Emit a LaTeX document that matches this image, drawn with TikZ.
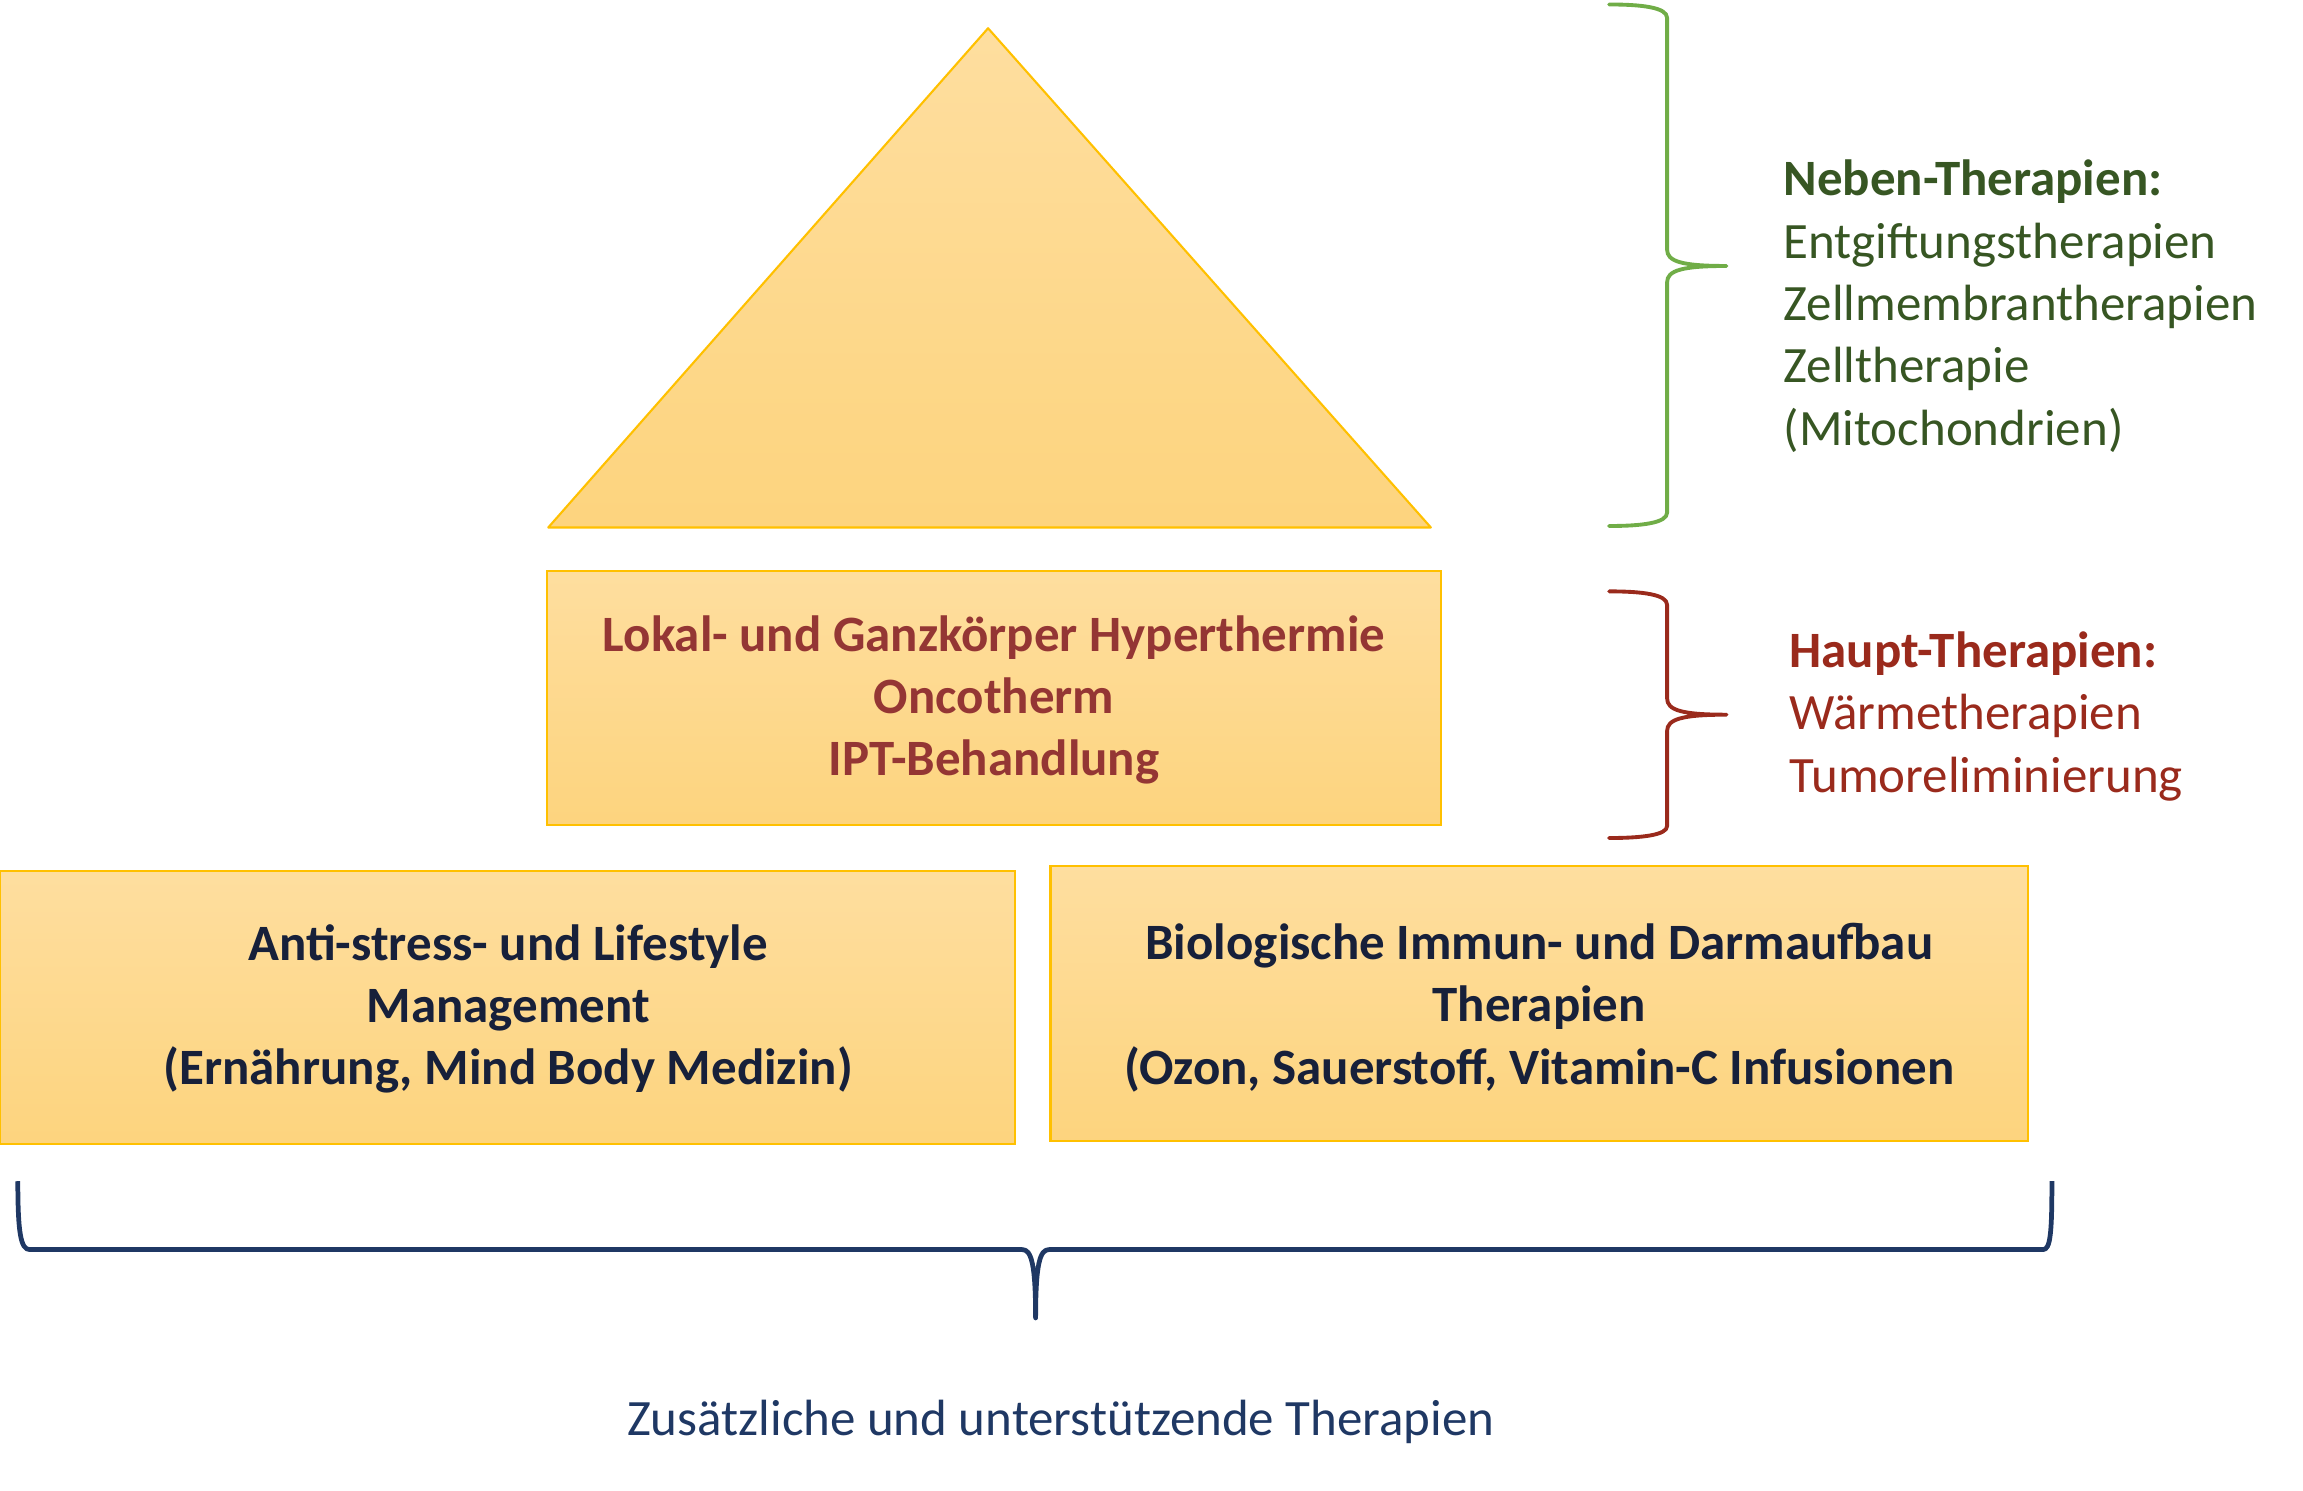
\documentclass[tikz,border=0pt]{standalone}
\usepackage{fontspec}
\setmainfont{Carlito}
\definecolor{boxborder}{HTML}{FFC000}
\definecolor{filltop}{HTML}{FEDE9F}
\definecolor{fillbot}{HTML}{FDD47E}
\definecolor{midred}{HTML}{943634}
\definecolor{darknavy}{HTML}{17203A}
\definecolor{bracegreen}{HTML}{70AD47}
\definecolor{textgreen}{HTML}{375623}
\definecolor{darkred}{HTML}{9A2A1C}
\definecolor{navy}{HTML}{1F3864}
\tikzset{
  boxshape/.style={top color=filltop, bottom color=fillbot, draw=boxborder, line width=0.6pt},
  boxtext/.style={align=center, font=\fontsize{14.5}{17.75}\selectfont\bfseries, inner sep=0pt},
  sidetext/.style={align=left, font=\fontsize{14.5}{17.75}\selectfont, inner sep=0pt, anchor=west},
  bracestyle/.style={line width=1.1pt, line cap=round, line join=round}
}
\begin{document}
\begin{tikzpicture}[x=0.0148581cm, y=-0.0148581cm]
\useasboundingbox (0,0) rectangle (1550,1003);
% triangle
\shade[top color=filltop, bottom color=fillbot] (665,19) -- (963,355) -- (369,355) -- cycle;
\draw[boxborder, line width=0.6pt, line join=round] (665,19) -- (963,355) -- (369,355) -- cycle;
% boxes
\path[boxshape] (368,384) rectangle (970,555);
\path[boxshape] (0,586) rectangle (683,770);
\path[boxshape] (707,583) rectangle (1365,768);
\node[boxtext, text=midred] (haupt) at (669,471) {Lokal- und Ganzkörper Hyperthermie\\Oncotherm\\IPT-Behandlung};
\node[boxtext, text=darknavy] (anti) at (342,679) {Anti-stress- und Lifestyle\\Management\\(Ernährung, Mind Body Medizin)};
\node[boxtext, text=darknavy] (bio) at (1036,678) {Biologische Immun- und Darmaufbau\\Therapien\\(Ozon, Sauerstoff, Vitamin-C Infusionen};
% green brace
\draw[bracestyle, bracegreen] (1083,3) .. controls (1105,3) and (1122,5) .. (1122,12) -- (1122,168) .. controls (1122,176) and (1132,179) .. (1162,179)
  .. controls (1132,179) and (1122,182) .. (1122,190) -- (1122,345) .. controls (1122,352) and (1105,354) .. (1083,354);
\coordinate (gtip) at (1162,179);
% red brace
\draw[bracestyle, darkred] (1083,398) .. controls (1105,398) and (1122,400) .. (1122,407) -- (1122,470) .. controls (1122,478) and (1132,481) .. (1162,481)
  .. controls (1132,481) and (1122,484) .. (1122,492) -- (1122,556) .. controls (1122,562) and (1105,564) .. (1083,564);
\coordinate (rtip) at (1162,481);
% navy brace
\draw[navy, line width=1.35pt, line join=round] (12,795) .. controls (12,830) and (14,841) .. (20,841) -- (688,841)
  .. controls (694,841) and (697,850) .. (697,887)
  .. controls (697,850) and (700,841) .. (706,841) -- (1375,841)
  .. controls (1380,841) and (1381,830) .. (1381,795);
\coordinate (btip) at (697,887);
% side texts
\node[sidetext, text=textgreen] (neben) at (1200,206) {\textbf{Neben-Therapien:}\\Entgiftungstherapien\\Zellmembrantherapien\\Zelltherapie\\(Mitochondrien)};
\node[sidetext, text=darkred] (hauptlabel) at (1204,482) {\textbf{Haupt-Therapien:}\\Wärmetherapien\\Tumoreliminierung};
\node[font=\fontsize{14.5}{17.75}\selectfont, text=navy, inner sep=0pt] (zus) at (714,957) {Zusätzliche und unterstützende Therapien};
\end{tikzpicture}
\end{document}
